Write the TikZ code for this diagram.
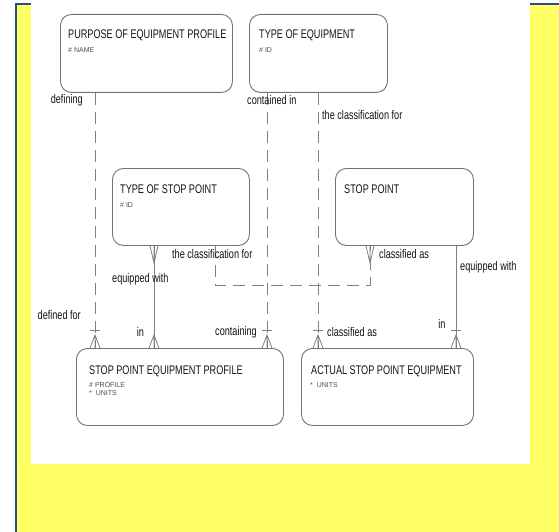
\documentclass[tikz,border=0pt]{standalone}
\usepackage{fontspec}
\setmainfont{Liberation Sans}
\newfontfamily\titlefont[FakeStretch=0.73]{Liberation Sans}
\newfontfamily\attrfont{Liberation Sans}
\definecolor{framEdge}{RGB}{38,78,140}
\definecolor{sheet}{RGB}{255,255,102}
\begin{document}
\begin{tikzpicture}[x=1pt,y=-1pt,
  entity/.style={draw=black!55, line width=0.9pt, rounded corners=11pt, fill=white,
    inner sep=0pt, anchor=north west},
  title/.style={font=\titlefont\fontsize{12.5}{14}\selectfont, text=black!92,
    inner sep=0pt, anchor=base west},
  attr/.style={font=\attrfont\fontsize{7}{8}\selectfont, text=black!70,
    inner sep=0pt, anchor=base west},
  rel/.style={font=\titlefont\fontsize{12.5}{14}\selectfont, text=black!92, inner sep=0pt},
  conn/.style={draw=black!50, line width=0.8pt},
  optional/.style={conn, dash pattern=on 12pt off 7pt},
  foot/.style={draw=black!50, line width=0.8pt},
  manyend/.pic={\draw[foot] (-5,0) -- (0,-13) -- (5,0) (0,0) -- (0,-13);},
  manystart/.pic={\draw[foot] (-4,0) -- (0,17) -- (4,0) (0,0) -- (0,17);},
  oneend/.pic={\draw[foot] (-5,-18) -- (5,-18);}
]
% page frame: yellow sheet, blue edges, white drawing area
\useasboundingbox (0,0) rectangle (559,532);
\fill[white] (0,0) rectangle (559,532);
\fill[sheet] (17,5) rectangle (559,532);
\draw[framEdge, line width=2pt] (16,532) -- (16,4) -- (559,4);
\fill[white] (31,0) rectangle (530,464);

% entities
\node[entity, minimum width=172pt, minimum height=78pt] (purpose) at (60,14) {};
\node[entity, minimum width=138pt, minimum height=78pt] (toe) at (249,14) {};
\node[entity, minimum width=137pt, minimum height=77pt] (tsp) at (112,168) {};
\node[entity, minimum width=138pt, minimum height=77pt] (sp) at (335,168) {};
\node[entity, minimum width=207pt, minimum height=77pt] (spep) at (76,348) {};
\node[entity, minimum width=172pt, minimum height=77pt] (actual) at (301,348) {};

\node[title] (purposeT) at ([shift={(8pt,-25pt)}]purpose.north west) {PURPOSE OF EQUIPMENT PROFILE};
\node[attr] (purposeA) at ([shift={(8pt,-39pt)}]purpose.north west) {\# NAME};
\node[title] (toeT) at ([shift={(10pt,-25pt)}]toe.north west) {TYPE OF EQUIPMENT};
\node[attr] (toeA) at ([shift={(10pt,-39pt)}]toe.north west) {\# ID};
\node[title] (tspT) at ([shift={(8pt,-25pt)}]tsp.north west) {TYPE OF STOP POINT};
\node[attr] (tspA) at ([shift={(8pt,-39pt)}]tsp.north west) {\# ID};
\node[title] (spT) at ([shift={(9pt,-25pt)}]sp.north west) {STOP POINT};
\node[title] (spepT) at ([shift={(13pt,-26pt)}]spep.north west) {STOP POINT EQUIPMENT PROFILE};
\node[attr] (spepA1) at ([shift={(13pt,-39.5pt)}]spep.north west) {\# PROFILE};
\node[attr] (spepA2) at ([shift={(13pt,-47.5pt)}]spep.north west) {*\ \ UNITS};
\node[title] (actualT) at ([shift={(10pt,-26pt)}]actual.north west) {ACTUAL STOP POINT EQUIPMENT};
\node[attr] (actualA) at ([shift={(9pt,-39.5pt)}]actual.north west) {*\ \ UNITS};

% connector end points
\coordinate (p1) at ([xshift=35pt]purpose.south west);
\coordinate (q1) at ([xshift=19pt]spep.north west);
\coordinate (p2) at ([xshift=18pt]toe.south west);
\coordinate (q2) at ([xshift=191pt]spep.north west);
\coordinate (p3) at ([xshift=69pt]toe.south west);
\coordinate (q3) at ([xshift=17pt]actual.north west);
\coordinate (p4) at ([xshift=42pt]tsp.south west);
\coordinate (q4) at ([xshift=78pt]spep.north west);
\coordinate (p5) at ([xshift=103pt]tsp.south west);
\coordinate (q5) at ([xshift=35pt]sp.south west);
\coordinate (p6) at ([xshift=121pt]sp.south west);
\coordinate (q6) at ([xshift=155pt]actual.north west);

% relationships
\draw[optional] (p1) -- (q1);
\draw[optional] (p2) -- (q2);
\draw[optional] (p3) -- (q3);
\draw[conn] (p4) -- (q4);
\draw[optional] (p5) -- ++(0,39) -| (q5);
\draw[conn] (p6) -- (q6);

% cardinality marks
\pic at (q1) {manyend}; \pic at (q1) {oneend};
\pic at (q2) {manyend}; \pic at (q2) {oneend};
\pic at (q3) {manyend}; \pic at (q3) {oneend};
\pic at (p4) {manystart}; \pic at (q4) {manyend};
\pic at (q5) {manystart};
\pic at (q6) {manyend}; \pic at (q6) {oneend};

% relationship names
\node[rel, anchor=east] (l1a) at (83,100) {defining};
\node[rel, anchor=east] (l1b) at (81,315) {defined for};
\node[rel, anchor=west] (l2a) at (247,100) {contained in};
\node[rel, anchor=east] (l2b) at (257,332) {containing};
\node[rel, anchor=west] (l3a) at (322,115) {the classification for};
\node[rel, anchor=west] (l3b) at (327,332) {classified as};
\node[rel, anchor=west] (l4a) at (112,279) {equipped with};
\node[rel] (l4b) at (140.5,332) {in};
\node[rel, anchor=west] (l5a) at (172,254) {the classification for};
\node[rel, anchor=west] (l5b) at (379,254) {classified as};
\node[rel, anchor=west] (l6a) at (460,267) {equipped with};
\node[rel] (l6b) at (442,324) {in};
\end{tikzpicture}
\end{document}
